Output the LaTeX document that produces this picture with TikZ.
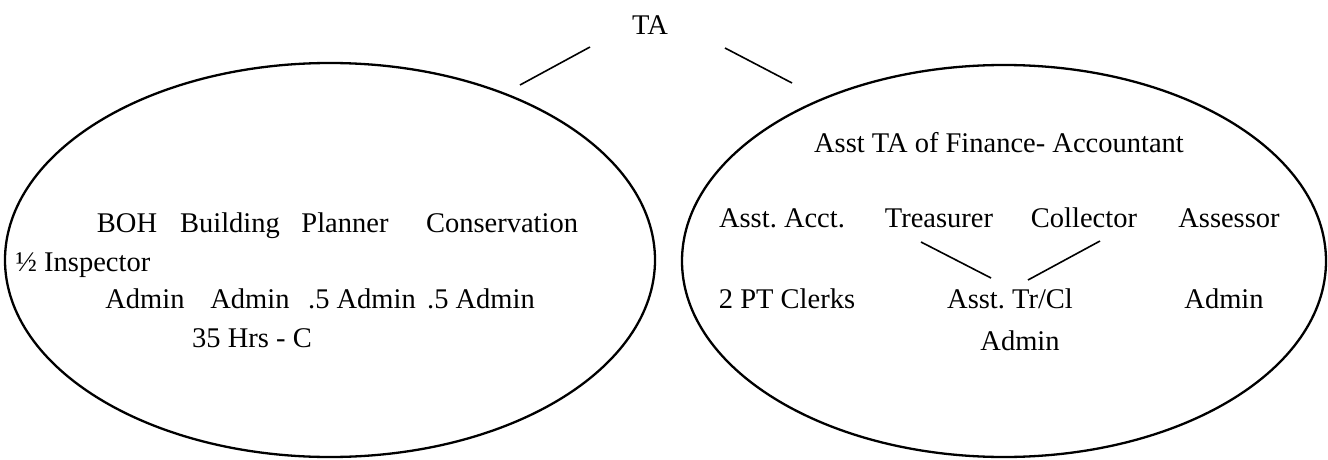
\documentclass[tikz,border=0pt]{standalone}
\usepackage{fontspec}
\setmainfont{Liberation Serif}
\usetikzlibrary{shapes.geometric}
\frenchspacing
\tikzset{
  lbl/.style={anchor=base, inner sep=0pt, font=\fontsize{28.5}{34}\selectfont},
  grp/.style={draw, ellipse, line width=2.3pt, inner sep=0pt},
  tie/.style={line width=1.6pt},
}
\begin{document}
\begin{tikzpicture}[x=1pt,y=-1pt]
\useasboundingbox (0,0) rectangle (1328,460);
% the two groups
\node[grp, minimum width=650pt, minimum height=394pt] (lgrp) at (330,260) {};
\node[grp, minimum width=644pt, minimum height=392pt] (rgrp) at (1004,261) {};
% head
\node[lbl] (ta) at (650,35) {TA};
\draw[tie] ([xshift=-60pt,yshift=-12pt]ta.base) -- ([xshift=190pt,yshift=175pt]lgrp.center);
\draw[tie] ([xshift=75pt,yshift=-13pt]ta.base) -- ([xshift=-212pt,yshift=178pt]rgrp.center);
% left group
\node[lbl] (boh) at (127,232) {BOH};
\node[lbl] (bld) at (230,232) {Building};
\node[lbl] (pln) at (345,232) {Planner};
\node[lbl] (cns) at (502,232) {Conservation};
\node[lbl] (insp) at (83,271) {½ Inspector};
\node[lbl] (adm1) at (145,308) {Admin};
\node[lbl] (adm2) at (250,308) {Admin};
\node[lbl] (adm3) at (362,308) {.5 Admin};
\node[lbl] (adm4) at (481,308) {.5 Admin};
\node[lbl] (hrs) at (252,347) {35 Hrs - C};
% right group
\node[lbl] (fin) at (999,152) {Asst TA of Finance- Accountant};
\node[lbl] (acct) at (782,227) {Asst. Acct.};
\node[lbl] (tre) at (939,227) {Treasurer};
\node[lbl] (col) at (1084,227) {Collector};
\node[lbl] (ass) at (1229,227) {Assessor};
\node[lbl] (clk) at (787,308) {2 PT Clerks};
\node[lbl] (atc) at (1010,308) {Asst. Tr/Cl};
\node[lbl] (adm5) at (1224,308) {Admin};
\node[lbl] (adm6) at (1020,350) {Admin};
\draw[tie] ([xshift=-18pt,yshift=-15pt]tre.base) -- ([xshift=-19pt,yshift=30pt]atc.base);
\draw[tie] ([xshift=16pt,yshift=-14pt]col.base) -- ([xshift=18pt,yshift=28pt]atc.base);
\end{tikzpicture}
\end{document}
